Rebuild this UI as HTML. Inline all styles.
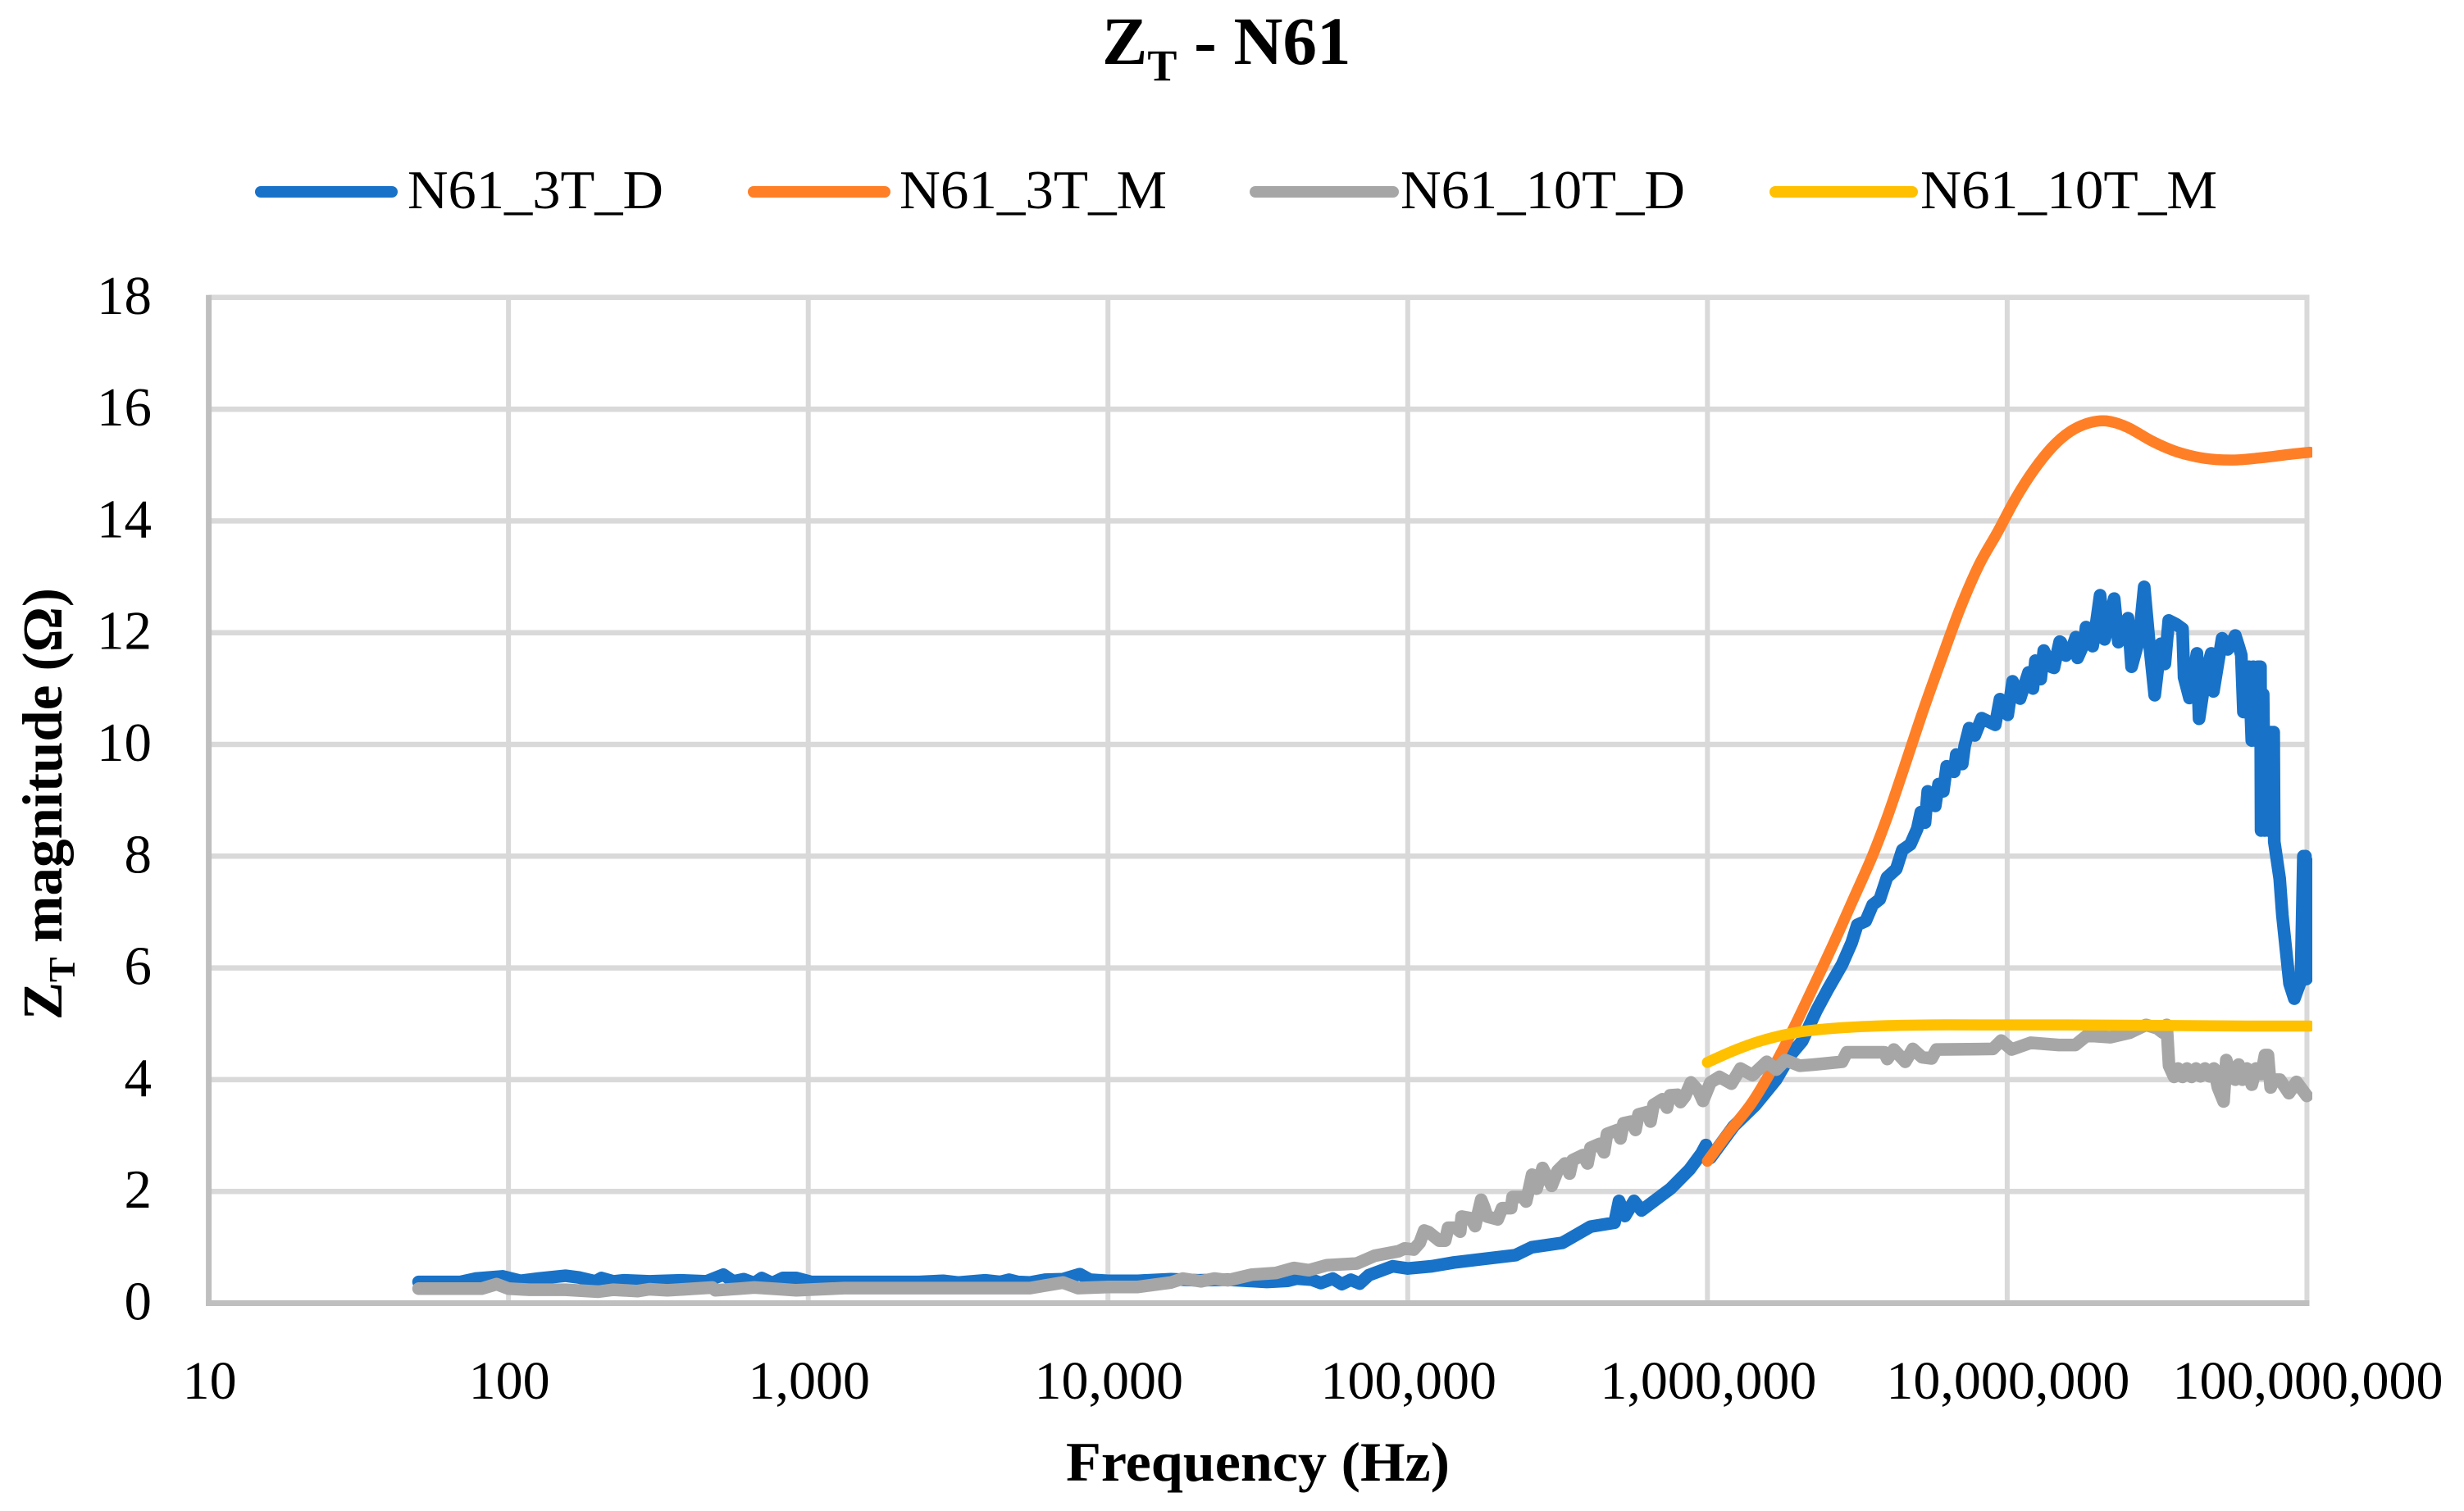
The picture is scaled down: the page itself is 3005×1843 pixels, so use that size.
<!DOCTYPE html>
<html lang="en">
<head>
<meta charset="utf-8">
<title>ZT - N61</title>
<style>
html,body{margin:0;padding:0;background:#fff;}
svg{display:block;font-family:"Liberation Serif","DejaVu Serif",serif;}
</style>
</head>
<body>
<svg id="chart" xmlns="http://www.w3.org/2000/svg" width="3005" height="1843" viewBox="0 0 3005 1843">
<rect width="3005" height="1843" fill="#ffffff"/>
<defs><clipPath id="plot-clip"><rect x="200" y="300" width="2620" height="1400"/></clipPath></defs>
<g id="grid"></g>
<g id="axes"></g>
<g id="series" clip-path="url(#plot-clip)"></g>
<g id="ticks"></g>
<text x="1344" y="78" font-size="83" font-weight="bold" fill="#000">Z<tspan dy="20" font-size="54">T</tspan><tspan dy="-20"> - N61</tspan></text>
<text x="1300" y="1806" font-size="68" font-weight="bold" fill="#000" textLength="468" lengthAdjust="spacingAndGlyphs">Frequency (Hz)</text>
<text transform="translate(75,1244) rotate(-90)" font-size="69" font-weight="bold" fill="#000">Z<tspan dy="16" font-size="46">T</tspan><tspan dy="-16"> magnitude (Ω)</tspan></text>
<g>
<line x1="318" x2="478" y1="234" y2="234" stroke="#1872c8" stroke-width="14" stroke-linecap="round"/>
<text x="497" y="254" font-size="67" textLength="312" lengthAdjust="spacingAndGlyphs">N61_3T_D</text>
<line x1="919" x2="1079" y1="234" y2="234" stroke="#ff7f27" stroke-width="14" stroke-linecap="round"/>
<text x="1097" y="254" font-size="67" textLength="326" lengthAdjust="spacingAndGlyphs">N61_3T_M</text>
<line x1="1531" x2="1699" y1="234" y2="234" stroke="#a6a6a6" stroke-width="14" stroke-linecap="round"/>
<text x="1708" y="254" font-size="67" textLength="347" lengthAdjust="spacingAndGlyphs">N61_10T_D</text>
<line x1="2165" x2="2332" y1="234" y2="234" stroke="#ffc000" stroke-width="14" stroke-linecap="round"/>
<text x="2342" y="254" font-size="67" textLength="362" lengthAdjust="spacingAndGlyphs">N61_10T_M</text>
</g>
</svg>
<script>
// Axis tick data
const xTickExponents = [1, 2, 3, 4, 5, 6, 7, 8];
const xTickLabels = ["10", "100", "1,000", "10,000", "100,000", "1,000,000", "10,000,000", "100,000,000"];
const yTickValues = [0, 2, 4, 6, 8, 10, 12, 14, 16, 18];

// N61_3T_D : log10(frequency), magnitude
const logF3TD = [
1.70,1.84,1.89,1.98,2.04,2.10,2.19,2.235,2.29,2.31,
2.35,2.385,2.47,2.575,2.66,2.717,2.75,2.785,2.82,2.845,
2.88,2.915,2.96,3.01,3.11,3.2,3.37,3.45,3.5,3.59,
3.64,3.67,3.7,3.74,3.79,3.85,3.906,3.94,4.0,4.1,
4.21,4.3,4.4,4.53,4.6,4.63,4.68,4.71,4.75,4.78,
4.81,4.84,4.87,4.95,5.0,5.08,5.155,5.25,5.36,5.414,
5.516,5.61,5.69,5.705,5.725,5.755,5.78,5.877,5.94,5.98,
5.995,6.01,6.088,6.159,6.229,6.277,6.316,6.363,6.402,6.449,
6.481,6.50,6.528,6.551,6.575,6.599,6.63,6.65,6.677,6.70,
6.712,6.726,6.735,6.76,6.771,6.787,6.798,6.823,6.83,6.85,
6.858,6.873,6.892,6.915,6.96,6.976,7.002,7.018,7.043,7.071,
7.086,7.094,7.112,7.122,7.147,7.156,7.175,7.179,7.196,7.216,
7.229,7.235,7.258,7.263,7.285,7.295,7.31,7.325,7.357,7.371,
7.403,7.415,7.44,7.457,7.473,7.492,7.512,7.526,7.539,7.564,
7.585,7.59,7.608,7.633,7.64,7.663,7.681,7.688,7.717,7.736,
7.761,7.774,7.781,7.788,7.794,7.801,7.807,7.816,7.821,7.829,
7.836,7.845,7.847,7.854,7.859,7.865,7.870,7.880,7.883,7.889,
7.891,7.898,7.909,7.918,7.942,7.958,7.98,7.988,7.992,7.995,
7.998,8.0];
const z3TD = [
0.38,0.38,0.44,0.48,0.40,0.44,0.49,0.46,0.39,0.45,
0.39,0.41,0.39,0.41,0.39,0.51,0.39,0.43,0.36,0.45,
0.36,0.45,0.45,0.38,0.38,0.38,0.38,0.40,0.37,0.41,
0.38,0.42,0.38,0.37,0.42,0.43,0.52,0.42,0.40,0.40,
0.43,0.41,0.42,0.38,0.40,0.44,0.42,0.36,0.44,0.34,
0.42,0.35,0.50,0.66,0.62,0.66,0.73,0.79,0.86,1.0,
1.08,1.37,1.44,1.83,1.56,1.83,1.66,2.05,2.39,2.68,
2.83,2.6,3.17,3.54,4.0,4.44,4.69,5.23,5.62,6.06,
6.45,6.77,6.84,7.13,7.23,7.62,7.77,8.11,8.21,8.49,
8.79,8.6,9.16,8.9,9.29,9.16,9.61,9.51,9.82,9.65,
9.97,10.29,10.16,10.47,10.35,10.81,10.53,11.13,10.82,11.29,
11.0,11.5,11.17,11.68,11.39,11.37,11.84,11.83,11.59,11.72,
11.92,11.55,11.83,12.1,11.76,12.09,12.67,11.88,12.61,11.83,
12.26,11.39,11.88,12.82,11.88,10.88,11.8,11.44,12.22,12.15,
12.07,11.2,10.83,11.63,10.46,11.29,11.63,10.95,11.9,11.7,
11.95,11.73,11.6,10.58,11.39,10.58,11.39,10.07,11.39,10.07,
11.39,11.39,8.46,10.9,8.46,10.22,8.46,10.22,8.46,10.22,
8.26,8.0,7.6,6.94,5.72,5.45,5.77,8.0,5.8,8.0,
5.8,7.9];

// N61_3T_M : log10(frequency), magnitude
const logF3TM = [6.0,6.07,6.15,6.23,6.29,6.355,6.42,6.48,6.55,6.60,6.654,6.716,6.779,6.842,6.905,6.968,7.03,7.09,7.15,7.21,7.27,7.33,7.40,7.486,7.565,7.659,7.753,7.847,7.94,8.01];
const z3TM = [2.54,3.05,3.6,4.32,4.95,5.68,6.43,7.15,8.0,8.7,9.55,10.55,11.5,12.42,13.2,13.8,14.42,14.92,15.32,15.6,15.75,15.79,15.68,15.42,15.24,15.12,15.09,15.13,15.19,15.23];

// N61_10T_D : log10(frequency), magnitude
const logF10TD = [
1.70,1.91,1.96,2.0,2.07,2.19,2.30,2.35,2.43,2.47,
2.53,2.59,2.68,2.69,2.77,2.82,2.91,2.96,3.12,3.30,
3.586,3.74,3.85,3.9,4.0,4.10,4.21,4.25,4.31,4.355,
4.40,4.48,4.56,4.62,4.67,4.73,4.83,4.89,4.97,4.99,
5.02,5.04,5.055,5.07,5.105,5.125,5.135,5.16,5.175,5.18,
5.21,5.225,5.235,5.245,5.255,5.265,5.30,5.315,5.345,5.35,
5.385,5.395,5.405,5.415,5.43,5.45,5.48,5.50,5.525,5.54,
5.55,5.585,5.60,5.61,5.64,5.655,5.665,5.70,5.71,5.72,
5.745,5.76,5.77,5.80,5.81,5.82,5.85,5.865,5.875,5.9,
5.91,5.925,5.945,5.97,5.985,6.01,6.04,6.08,6.11,6.15,
6.198,6.23,6.26,6.308,6.355,6.449,6.465,6.59,6.6,6.622,
6.66,6.685,6.716,6.748,6.764,6.952,6.98,7.015,7.078,7.172,
7.227,7.266,7.345,7.408,7.463,7.50,7.52,7.532,7.54,7.557,
7.57,7.585,7.60,7.615,7.63,7.645,7.66,7.675,7.69,7.703,
7.722,7.731,7.745,7.761,7.772,7.785,7.80,7.816,7.83,7.848,
7.86,7.87,7.879,7.89,7.91,7.94,7.965,8.0];
const z10TD = [
0.26,0.26,0.34,0.26,0.24,0.24,0.205,0.24,0.215,0.25,
0.23,0.25,0.28,0.23,0.26,0.28,0.25,0.23,0.27,0.27,
0.27,0.27,0.37,0.27,0.29,0.29,0.37,0.44,0.39,0.44,
0.41,0.51,0.54,0.63,0.59,0.68,0.71,0.85,0.93,0.98,
0.96,1.08,1.3,1.27,1.12,1.12,1.35,1.35,1.28,1.55,
1.52,1.38,1.62,1.85,1.72,1.55,1.5,1.7,1.7,1.9,
1.9,1.82,2.05,2.3,2.05,2.42,2.1,2.37,2.5,2.32,
2.56,2.65,2.5,2.78,2.85,2.7,3.03,3.1,2.95,3.22,
3.25,3.1,3.38,3.42,3.25,3.55,3.65,3.5,3.72,3.73,
3.6,3.7,3.95,3.8,3.62,3.95,4.05,3.93,4.2,4.08,
4.32,4.18,4.35,4.25,4.27,4.32,4.49,4.49,4.37,4.54,
4.32,4.55,4.4,4.38,4.54,4.55,4.7,4.54,4.66,4.62,
4.62,4.79,4.76,4.84,4.98,4.92,4.84,4.98,4.25,4.05,
4.2,4.05,4.2,4.05,4.2,4.06,4.2,4.06,4.2,3.86,
3.61,4.35,4.05,4.0,4.27,4.0,4.2,3.91,4.2,4.1,
4.44,4.44,3.86,4.0,4.0,3.76,3.96,3.71];

// N61_10T_M : log10(frequency), magnitude
const logF10TM = [6.0,6.088,6.182,6.292,6.40,6.56,6.75,6.95,7.2,7.5,7.8,8.01];
const z10TM = [4.31,4.52,4.70,4.84,4.91,4.96,4.98,4.98,4.98,4.97,4.96,4.96];

// Axis functions
function xScale(logF){ return 254.6 + (logF - 1) * 365.55; }
function yScale(z){ return 1589.5 - z * 68.15; }

const NS = "http://www.w3.org/2000/svg";
const gridG = document.getElementById("grid");
const axesG = document.getElementById("axes");
const seriesG = document.getElementById("series");
const ticksG = document.getElementById("ticks");

function line(parent, x1, y1, x2, y2, color, w){
  const el = document.createElementNS(NS, "line");
  el.setAttribute("x1", x1);
  el.setAttribute("y1", y1);
  el.setAttribute("x2", x2);
  el.setAttribute("y2", y2);
  el.setAttribute("stroke", color);
  el.setAttribute("stroke-width", w);
  parent.appendChild(el);
  return el;
}

yTickValues.forEach(function(v){
  if (v !== 0) {
    const g = line(gridG, xScale(1), yScale(v), xScale(8) + 3, yScale(v), "#d9d9d9", 6.5);
    
    
  }
  const t = document.createElementNS(NS, "text");
  
  
  t.setAttribute("x", 185);
  t.setAttribute("y", yScale(v) + 20);
  t.setAttribute("text-anchor", "end");
  t.setAttribute("font-size", "67");
  t.textContent = String(v);
  ticksG.appendChild(t);
});

xTickExponents.forEach(function(e, i){
  if (i !== 0) {
    const g = line(gridG, xScale(e), yScale(18) - 3, xScale(e), yScale(0), "#d9d9d9", 6);
    
    
  }
  const t = document.createElementNS(NS, "text");
  
  
  t.setAttribute("x", xScale(e) + 1);
  t.setAttribute("y", 1706);
  t.setAttribute("text-anchor", "middle");
  t.setAttribute("font-size", "66");
  t.textContent = xTickLabels[i];
  ticksG.appendChild(t);
});

const yAxisLine = line(axesG, xScale(1), yScale(18) - 3, xScale(1), yScale(0) + 3.5, "#bfbfbf", 7);


const xAxisLine = line(axesG, xScale(1) - 3.5, yScale(0), xScale(8) + 3, yScale(0), "#bfbfbf", 7);



function polyPath(xs, ys){
  return xs.map(function(x, i){
    return (i ? "L" : "M") + xScale(x).toFixed(1) + " " + yScale(ys[i]).toFixed(1);
  }).join("");
}
// Catmull-Rom smoothing for the modelled curves
function smoothPath(xs, ys){
  const p = xs.map(function(x, i){ return [xScale(x), yScale(ys[i])]; });
  let d = "M" + p[0][0].toFixed(1) + " " + p[0][1].toFixed(1);
  for (let i = 0; i < p.length - 1; i++) {
    const a = p[Math.max(i - 1, 0)], b = p[i], c = p[i + 1], e = p[Math.min(i + 2, p.length - 1)];
    d += "C" + (b[0] + (c[0] - a[0]) / 6).toFixed(1) + " " + (b[1] + (c[1] - a[1]) / 6).toFixed(1) + " " +
         (c[0] - (e[0] - b[0]) / 6).toFixed(1) + " " + (c[1] - (e[1] - b[1]) / 6).toFixed(1) + " " +
         c[0].toFixed(1) + " " + c[1].toFixed(1);
  }
  return d;
}
function addSeries(d, color, w){
  const el = document.createElementNS(NS, "path");
  el.setAttribute("d", d);
  el.setAttribute("fill", "none");
  el.setAttribute("stroke", color);
  el.setAttribute("stroke-width", w);
  el.setAttribute("stroke-linecap", "round");
  el.setAttribute("stroke-linejoin", "round");
  seriesG.appendChild(el);
  return el;
}
const line3TD = addSeries(polyPath(logF3TD, z3TD), "#1872c8", 15.5);


const line3TM = addSeries(smoothPath(logF3TM, z3TM), "#ff7f27", 13.5);


const line10TD = addSeries(polyPath(logF10TD, z10TD), "#a6a6a6", 15.5);


const line10TM = addSeries(smoothPath(logF10TM, z10TM), "#ffc000", 13.5);


</script>
</body>
</html>
